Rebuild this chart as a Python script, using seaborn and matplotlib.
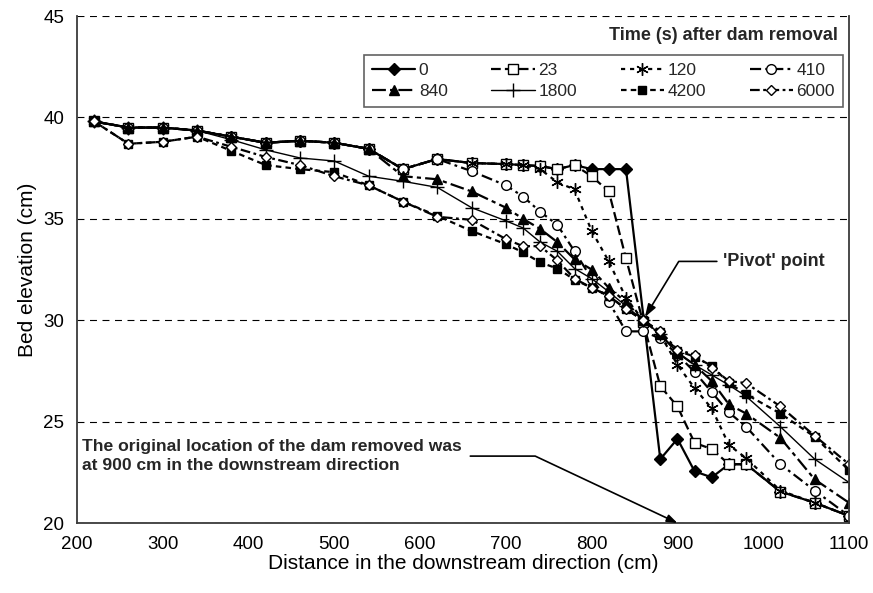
import matplotlib
matplotlib.use("Agg")
import matplotlib.pyplot as plt
import seaborn as sns
import pandas as pd
import numpy as np

# distance (cm) of survey points; series "0" has no point at 860
x_t0 = [220, 260, 300, 340, 380, 420, 460, 500, 540, 580, 620, 660, 700, 720, 740,
        760, 780, 800, 820, 840, 880, 900, 920, 940, 960, 980, 1020, 1060, 1100]
x_pts = [220, 260, 300, 340, 380, 420, 460, 500, 540, 580, 620, 660, 700, 720, 740,
         760, 780, 800, 820, 840, 860, 880, 900, 920, 940, 960, 980, 1020, 1060, 1100]

bed_0 = [39.8, 39.5, 39.5, 39.35, 39.05, 38.75, 38.85, 38.75, 38.45, 37.45, 37.95, 37.75, 37.7, 37.65, 37.6,
         37.45, 37.65, 37.45, 37.45, 37.45, 23.15, 24.15, 22.55, 22.25, 22.9, 22.9, 21.55, 21.0, 20.35]
bed_23 = [39.8, 39.5, 39.5, 39.35, 39.05, 38.75, 38.85, 38.75, 38.45, 37.45, 37.95, 37.75, 37.7, 37.65, 37.6,
          37.45, 37.65, 37.1, 36.35, 33.05, 29.9, 26.75, 25.75, 23.95, 23.65, 22.9, 22.9, 21.55, 21.0, 20.35]
bed_120 = [39.8, 39.5, 39.5, 39.35, 39.05, 38.75, 38.85, 38.75, 38.45, 37.45, 37.95, 37.75, 37.7, 37.65, 37.45,
           36.8, 36.45, 34.4, 32.9, 31.1, 30.0, 29.3, 27.8, 26.65, 25.65, 23.85, 23.2, 21.6, 21.0, 20.35]
bed_410 = [39.8, 39.5, 39.5, 39.35, 39.05, 38.75, 38.85, 38.75, 38.45, 37.45, 37.95, 37.35, 36.65, 36.1, 35.35,
           34.7, 33.4, 32.05, 30.9, 29.45, 29.45, 29.1, 28.3, 27.45, 26.45, 25.45, 24.75, 22.9, 21.6, 20.35]
bed_840 = [39.8, 39.5, 39.5, 39.35, 39.05, 38.75, 38.85, 38.75, 38.45, 37.1, 36.95, 36.35, 35.55, 35.0, 34.5,
           33.85, 33.0, 32.5, 31.6, 30.9, 30.0, 29.3, 28.4, 27.8, 27.0, 25.85, 25.4, 24.2, 22.15, 21.0]
bed_1800 = [39.8, 39.5, 39.5, 39.35, 38.9, 38.4, 38.0, 37.85, 37.1, 36.85, 36.55, 35.55, 34.9, 34.55, 33.85,
            33.4, 32.55, 32.05, 31.4, 30.7, 30.0, 29.3, 28.4, 27.8, 27.3, 26.8, 26.25, 24.75, 23.15, 22.0]
bed_4200 = [39.8, 38.7, 38.8, 39.05, 38.35, 37.65, 37.45, 37.3, 36.65, 35.85, 35.15, 34.4, 33.75, 33.35, 32.85,
            32.55, 32.0, 31.6, 31.2, 30.55, 30.0, 29.4, 28.5, 28.2, 27.75, 26.9, 26.35, 25.4, 24.25, 22.6]
bed_6000 = [39.8, 38.7, 38.8, 39.05, 38.55, 38.05, 37.65, 37.1, 36.65, 35.85, 35.1, 34.95, 34.0, 33.65, 33.65,
            32.95, 32.05, 31.6, 31.2, 30.55, 30.0, 29.45, 28.55, 28.3, 27.65, 27.0, 26.9, 25.75, 24.3, 22.9]

times = ["0", "23", "120", "410", "840", "1800", "4200", "6000"]

sns.set_theme(style="white")
plt.rcParams["font.family"] = ["Liberation Sans", "DejaVu Sans"]
plt.rcParams["lines.scale_dashes"] = False

fig = plt.figure(figsize=(8.73, 5.93), dpi=100)
ax = fig.add_axes([0.0882, 0.118, 0.8843, 0.855])

# marker / line look per series (Excel-like)
styles = {
    "0": dict(marker="D", ms=6, mfc="black", ls="-", lw=1.6),
    "23": dict(marker="s", ms=6.5, mfc="white", ls=(0, (7, 3)), lw=1.6),
    "120": dict(marker=(6, 2, 0), ms=9, mfc="black", ls=(0, (3, 3.5)), lw=1.6),
    "410": dict(marker="o", ms=7, mfc="white", ls=(0, (8, 3, 2, 3)), lw=1.6),
    "840": dict(marker="^", ms=7, mfc="black", ls=(0, (10, 3, 3, 3)), lw=1.6),
    "1800": dict(marker="+", ms=10, mfc="black", ls="-", lw=1.0),
    "4200": dict(marker="s", ms=5.5, mfc="black", ls=(0, (4, 3)), lw=1.6),
    "6000": dict(marker="D", ms=5.5, mfc="white", ls=(0, (7, 2.5, 2, 2.5)), lw=1.6),
}
series = {
    "0": (x_t0, bed_0), "23": (x_pts, bed_23), "120": (x_pts, bed_120), "410": (x_pts, bed_410),
    "840": (x_pts, bed_840), "1800": (x_pts, bed_1800), "4200": (x_pts, bed_4200), "6000": (x_pts, bed_6000),
}

for t in times:
    xs, ys = series[t]
    df = pd.DataFrame({"x": xs, "y": ys})
    st = styles[t]
    sns.lineplot(data=df, x="x", y="y", ax=ax, color="black", errorbar=None,
                 marker=st["marker"], markersize=st["ms"], markerfacecolor=st["mfc"],
                 markeredgecolor="black", markeredgewidth=1.0, linestyle=st["ls"],
                 linewidth=st["lw"], label=t)

ax.set_xlim(200, 1100)
ax.set_ylim(20, 45)
ax.set_xticks(np.arange(200, 1101, 100))
ax.set_yticks(np.arange(20, 46, 5))
ax.yaxis.grid(True, color="black", linestyle=(0, (5, 4)), linewidth=0.8)
ax.xaxis.grid(False)
ax.set_axisbelow(True)
for side in ["left", "bottom", "right"]:
    ax.spines[side].set_color("#3a3a3a")
    ax.spines[side].set_linewidth(1.3)
ax.spines["top"].set_visible(False)
ax.tick_params(axis="both", direction="out", length=5, width=1, color="#3a3a3a",
               labelsize=13.5, labelcolor="black", pad=4)
ax.set_xlabel("Distance in the downstream direction (cm)", fontsize=15, color="black", labelpad=1)
ax.set_ylabel("Bed elevation (cm)", fontsize=15, color="black", labelpad=5)

# legend, 4 columns x 2 rows
handles, labels = ax.get_legend_handles_labels()
hmap = dict(zip(labels, handles))
order = ["0", "840", "23", "1800", "120", "4200", "410", "6000"]
leg = ax.legend([hmap[k] for k in order], order, ncol=4, loc="lower left",
                bbox_to_anchor=(0.372, 0.8205, 0.62, 0.1165), mode="expand", borderaxespad=0,
                frameon=True, fancybox=False, edgecolor="#3a3a3a", fontsize=12.5,
                handlelength=2.5, handletextpad=0.2, borderpad=0.45, labelspacing=0.35)
leg.get_frame().set_linewidth(1.2)
ax.text(0.986, 0.9625, "Time (s) after dam removal", transform=ax.transAxes, ha="right",
        va="center", fontsize=13, fontweight="bold")

# annotations
ax.annotate("'Pivot' point", xy=(862, 30.15), xytext=(953, 32.9), ha="left", va="center",
            fontsize=13, fontweight="bold",
            arrowprops=dict(arrowstyle="-|>,head_length=0.6,head_width=0.2", color="black", lw=1.2,
                            connectionstyle="angle,angleA=0,angleB=58.7,rad=0", shrinkA=2, shrinkB=0))
ax.annotate("The original location of the dam removed was\nat 900 cm in the downstream direction",
            xy=(900, 20.0), xytext=(205.5, 23.3), ha="left", va="center", fontsize=12.6,
            fontweight="bold", linespacing=1.35,
            arrowprops=dict(arrowstyle="-|>,head_length=0.5,head_width=0.18", color="black", lw=1.2,
                            connectionstyle="angle,angleA=0,angleB=-25.2,rad=0", shrinkA=4, shrinkB=0))

fig.savefig("out.png", dpi=100)
